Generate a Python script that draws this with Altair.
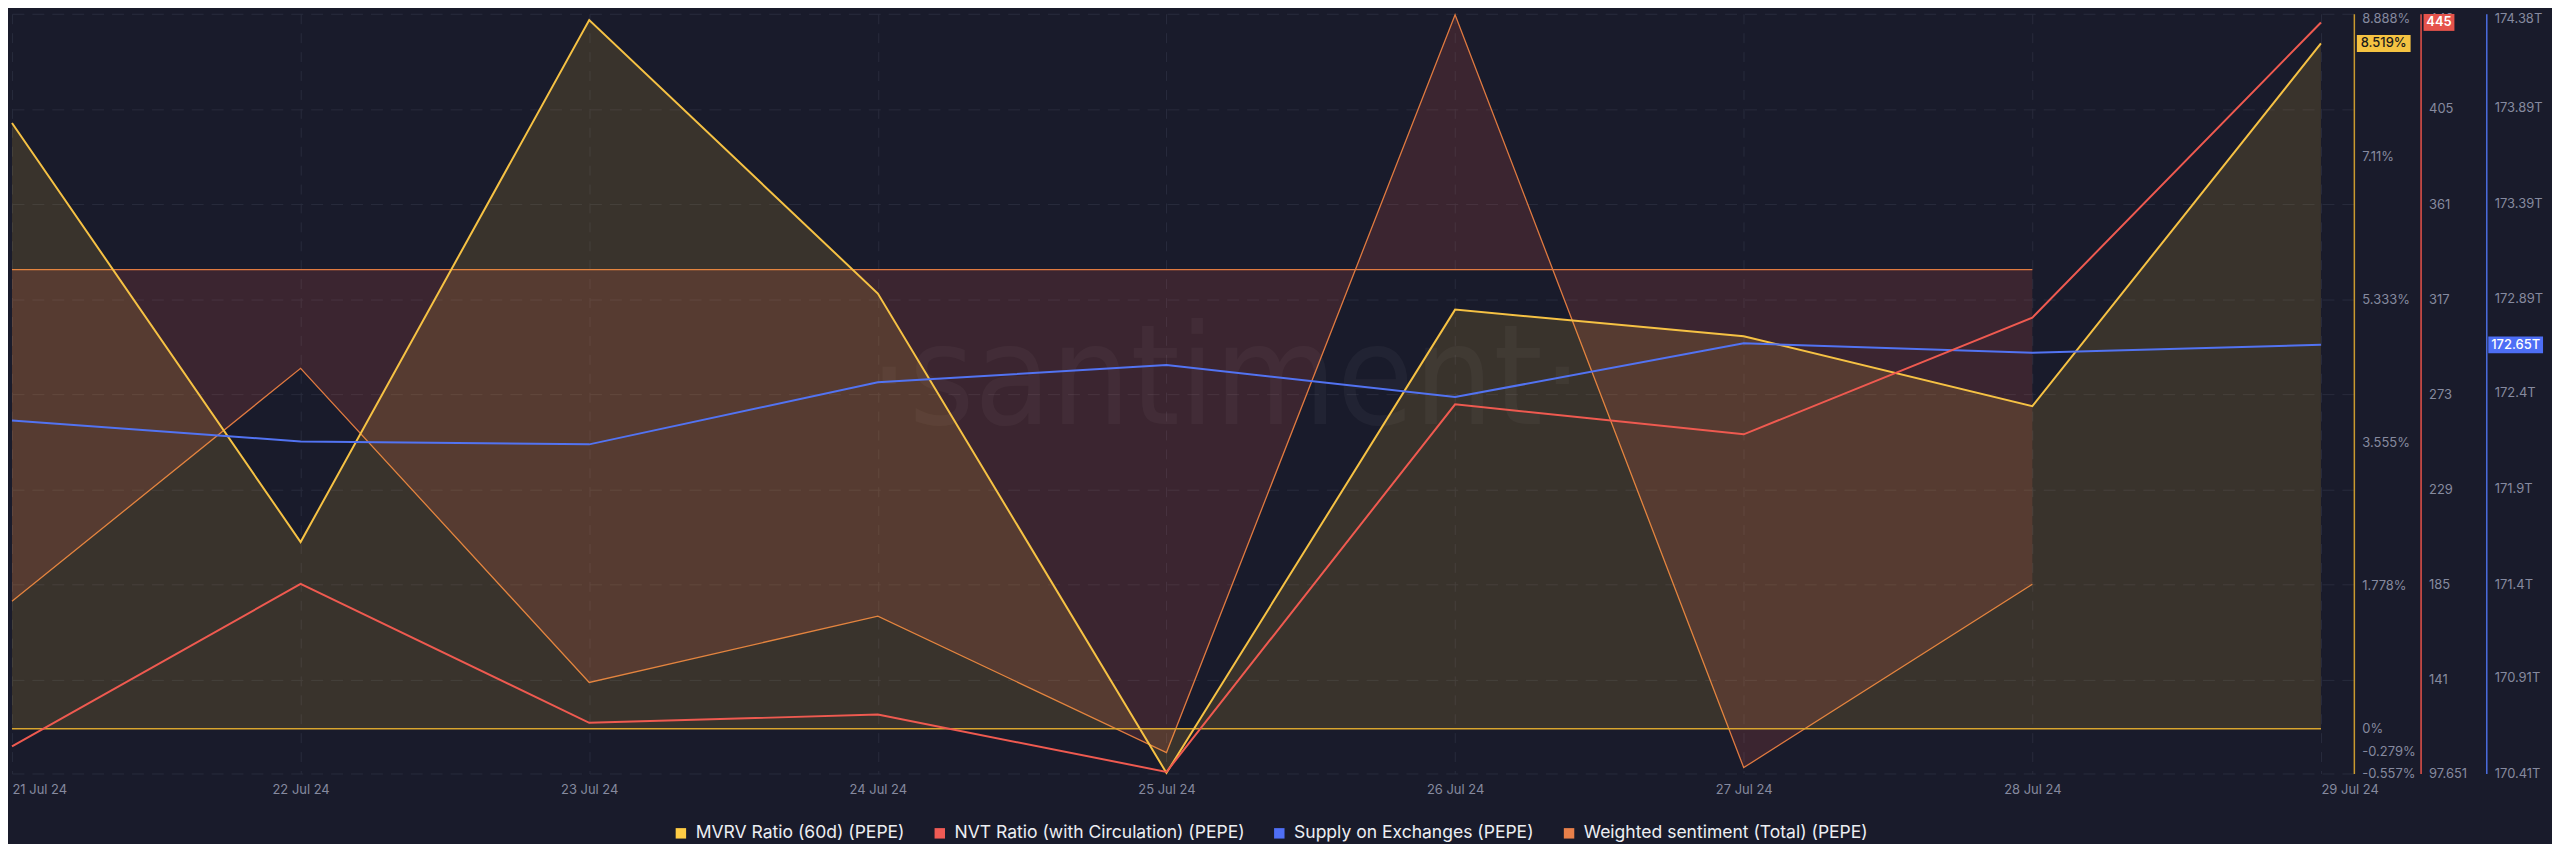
import altair as alt
import pandas as pd

# ---------------- data ----------------
dates = ["2024-07-21", "2024-07-22", "2024-07-23", "2024-07-24", "2024-07-25",
         "2024-07-26", "2024-07-27", "2024-07-28", "2024-07-29"]
mvrv = [7.53, 2.32, 8.81, 5.41, -0.55, 5.21, 4.88, 4.01, 8.519]
nvt = [110.2, 185.3, 121.1, 124.9, 98.4, 268.4, 254.5, 308.5, 445.0]
supply = [172.255, 172.145, 172.13, 172.454, 172.545, 172.377, 172.658, 172.609, 172.65]
sentiment = [-1.297, -0.386, -1.614, -1.355, -1.888, 0.996, -1.947, -1.23]

names = ["MVRV Ratio (60d) (PEPE)", "NVT Ratio (with Circulation) (PEPE)",
         "Supply on Exchanges (PEPE)", "Weighted sentiment (Total) (PEPE)"]
legend_colors = ["#ffcd45", "#f05b55", "#4f6ff5", "#e8804a"]

mvrv_ticks = [-0.557, -0.279, 0, 1.778, 3.555, 5.333, 7.11, 8.888]
nvt_ticks = [97.651, 141, 185, 229, 273, 317, 361, 405, 449]
supply_ticks = [170.41, 170.91, 171.4, 171.9, 172.4, 172.89, 173.39, 173.89, 174.38]
mvrv_domain = [-0.557, 8.888]
nvt_domain = [97.651, 449.0]
supply_domain = [170.41, 174.38]
sent_domain = [-1.97, 1.0]

# ---------------- styling ----------------
BG = "#191b2b"
GRID = "#282b3c"
LABEL = "#868a9f"
YELLOW = "#f6c244"
RED = "#ef5a50"
BLUE = "#5273f2"
ORANGE = "#e07a40"
FONT = "Inter"

main = pd.DataFrame({"date": dates, "mvrv": mvrv, "nvt": nvt, "supply": supply})
sent_df = pd.DataFrame({"date": dates[:len(sentiment)], "sent": sentiment})
last = main.iloc[[-1]].reset_index(drop=True)

DAY = 86400000
tick_ms = [int(pd.Timestamp(d, tz="UTC").value // 10**6) for d in dates]
x_scale = alt.Scale(type="utc", domain=[tick_ms[0], tick_ms[-1] + int(0.114 * DAY)])
x_axis = alt.Axis(
    values=tick_ms, labelExpr="utcFormat(datum.value, '%d %b %y')",
    grid=True, gridColor=GRID, gridDash=[10, 9], gridWidth=1,
    domain=False, ticks=False, labelPadding=10, labelColor=LABEL,
    labelFont=FONT, labelFontSize=13, labelOverlap=False, labelFlush=False,
    labelAlign={"condition": {"test": "datum.index == 0 || datum.index == 1", "value": "left"},
                "value": "center"},
    title=None)


def X(field):
    return alt.X(f"{field}:T", scale=x_scale, axis=x_axis)


def yaxis(offset, values, expr, color, grid=False):
    kw = dict(orient="right", offset=offset, values=values, labelExpr=expr,
              ticks=False, domainColor=color, domainWidth=1.5,
              labelColor=LABEL, labelFont=FONT, labelFontSize=13,
              labelPadding=8, labelOverlap=False, labelFlush=False, title=None,
              labelOffset={"condition": {"test": "datum.index == 1", "value": 5}, "value": 0},
              grid=grid)
    if grid:
        kw.update(gridColor=GRID, gridDash=[12, 8], gridWidth=1)
    return alt.Axis(**kw)


mvrv_scale = alt.Scale(domain=mvrv_domain, zero=False, nice=False)
nvt_scale = alt.Scale(domain=nvt_domain, zero=False, nice=False)
supply_scale = alt.Scale(domain=supply_domain, zero=False, nice=False)
sent_scale = alt.Scale(domain=sent_domain, zero=False, nice=False)

mvrv_ax = yaxis(0, mvrv_ticks, "datum.value + '%'", "#c99a2e")
nvt_ax = yaxis(67, nvt_ticks, "datum.value + ''", "#e8524a", grid=True)
supply_ax = yaxis(133, supply_ticks, "datum.value + 'T'", "#4c6de0")
sent_ax = alt.Axis(orient="right", labels=False, ticks=False, domain=False,
                   grid=False, title=None, values=[0])

# ---------------- watermark ----------------
watermark = alt.Chart(pd.DataFrame({"t": ["·santiment·"]})).mark_text(
    font="Liberation Sans Narrow, DejaVu Sans Condensed, sans-serif", fontSize=140,
    color="#ffffff", opacity=0.035, align="center", baseline="alphabetic"
).encode(text="t:N", x=alt.value(1219), y=alt.value(412))

# ---------------- legend (dummy invisible marks) ----------------
legend_layer = alt.Chart(pd.DataFrame({"name": names})).mark_square(size=10, opacity=0).encode(
    fill=alt.Fill("name:N", scale=alt.Scale(domain=names, range=legend_colors),
                  legend=alt.Legend(orient="none", legendX=663, legendY=814,
                                    direction="horizontal", title=None,
                                    symbolType="square", symbolSize=110,
                                    symbolOpacity=1, symbolStrokeWidth=0,
                                    labelFont=FONT, labelFontSize=17.6,
                                    labelColor="#eceef3", labelLimit=600,
                                    columnPadding=26, labelOffset=6)))

# ---------------- weighted sentiment ----------------
sent_area = alt.Chart(sent_df).mark_area(color="#ff6450", opacity=0.15).encode(
    x=X("date"), y=alt.Y("sent:Q", scale=sent_scale, axis=sent_ax), y2=alt.datum(0))
sent_base = alt.Chart(sent_df).mark_line(color=ORANGE, strokeWidth=1.3).encode(
    x=X("date"), y=alt.Y("zero:Q", scale=sent_scale, axis=sent_ax)
).transform_calculate(zero="0")
sent_line = alt.Chart(sent_df).mark_line(color=ORANGE, strokeWidth=1.3).encode(
    x=X("date"), y=alt.Y("sent:Q", scale=sent_scale, axis=sent_ax))
sent_group = alt.layer(watermark, sent_area, sent_base, sent_line, legend_layer)

# ---------------- MVRV ----------------
mvrv_area = alt.Chart(main).mark_area(color="#ffc83c", opacity=0.14).encode(
    x=X("date"), y=alt.Y("mvrv:Q", scale=mvrv_scale, axis=mvrv_ax), y2=alt.datum(0))
mvrv_base = alt.Chart(main).mark_line(color="#d9a52e", strokeWidth=1.5).encode(
    x=X("date"), y=alt.Y("zero:Q", scale=mvrv_scale, axis=mvrv_ax)
).transform_calculate(zero="0")
mvrv_line = alt.Chart(main).mark_line(color=YELLOW, strokeWidth=2).encode(
    x=X("date"), y=alt.Y("mvrv:Q", scale=mvrv_scale, axis=mvrv_ax))
mvrv_tag = alt.Chart(last).mark_rule(color="#f5c342", strokeWidth=17, strokeCap="butt").encode(
    x=alt.value(2355), x2=alt.value(2409),
    y=alt.Y("mvrv:Q", scale=mvrv_scale, axis=mvrv_ax))
mvrv_txt = alt.Chart(last).transform_calculate(
    label="format(datum.mvrv, '.3f') + '%'"
).mark_text(color="#1b1b1b", font=FONT, fontSize=13, fontWeight=500,
            align="center", baseline="middle").encode(
    x=alt.value(2382), y=alt.Y("mvrv:Q", scale=mvrv_scale, axis=mvrv_ax), text="label:N")
mvrv_group = alt.layer(mvrv_area, mvrv_base, mvrv_line, mvrv_tag, mvrv_txt)

# ---------------- NVT ----------------
nvt_line = alt.Chart(main).mark_line(color=RED, strokeWidth=2).encode(
    x=X("date"), y=alt.Y("nvt:Q", scale=nvt_scale, axis=nvt_ax))
nvt_tag = alt.Chart(last).mark_rule(color="#e5534b", strokeWidth=17, strokeCap="butt").encode(
    x=alt.value(2422), x2=alt.value(2453),
    y=alt.Y("nvt:Q", scale=nvt_scale, axis=nvt_ax))
nvt_txt = alt.Chart(last).transform_calculate(
    label="format(datum.nvt, 'd')"
).mark_text(color="#ffffff", font=FONT, fontSize=13, fontWeight=600,
            align="center", baseline="middle").encode(
    x=alt.value(2437.5), y=alt.Y("nvt:Q", scale=nvt_scale, axis=nvt_ax), text="label:N")
nvt_group = alt.layer(nvt_line, nvt_tag, nvt_txt)

# ---------------- Supply ----------------
supply_line = alt.Chart(main).mark_line(color=BLUE, strokeWidth=2).encode(
    x=X("date"), y=alt.Y("supply:Q", scale=supply_scale, axis=supply_ax))
supply_tag = alt.Chart(last).mark_rule(color="#4d6ef5", strokeWidth=17, strokeCap="butt").encode(
    x=alt.value(2487), x2=alt.value(2542),
    y=alt.Y("supply:Q", scale=supply_scale, axis=supply_ax))
supply_txt = alt.Chart(last).transform_calculate(
    label="format(datum.supply, '.2f') + 'T'"
).mark_text(color="#ffffff", font=FONT, fontSize=13, fontWeight=500,
            align="center", baseline="middle").encode(
    x=alt.value(2514.5), y=alt.Y("supply:Q", scale=supply_scale, axis=supply_ax), text="label:N")
supply_group = alt.layer(supply_line, supply_tag, supply_txt)

chart = alt.layer(
    sent_group, mvrv_group, supply_group, nvt_group
).resolve_scale(y="independent").properties(
    width=2352, height=763, background=BG,
    padding={"left": 0, "top": 2, "right": 0, "bottom": 0}
).configure_view(stroke=None)

chart.save("out.html", embed_options={"renderer": "svg", "actions": False})
